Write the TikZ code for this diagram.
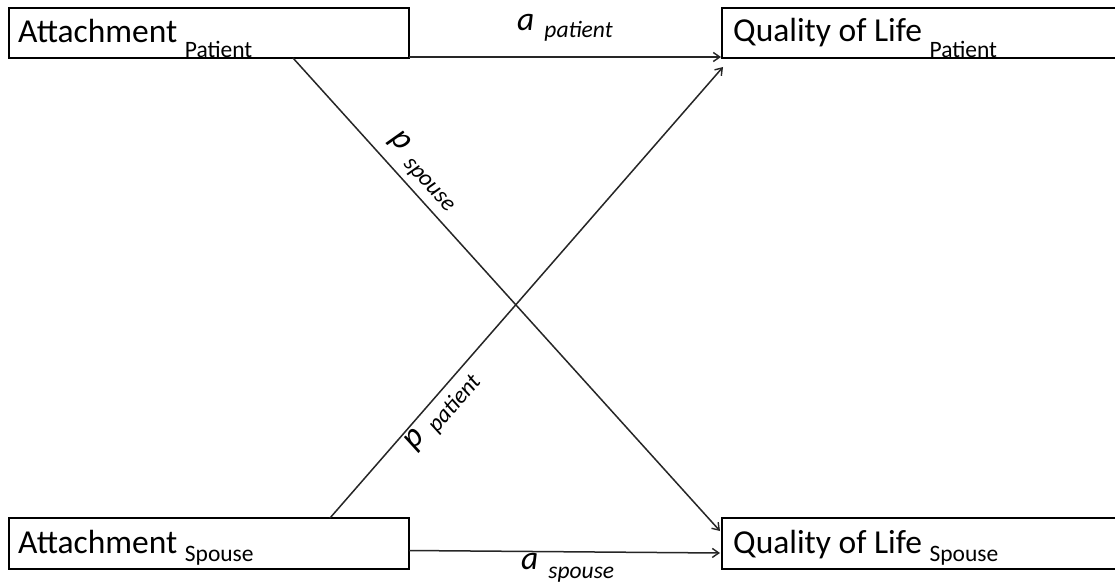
\documentclass[tikz,border=0pt]{standalone}
\usepackage{fontspec}
\setmainfont{Carlito}
\usetikzlibrary{calc,arrows.meta}
\newcommand{\mainsize}{\fontsize{33.5}{38}\selectfont}
\newcommand{\subsize}{\fontsize{23.5}{27}\selectfont}
\tikzset{
  box/.style={draw=black, line width=1.6pt, minimum height=50pt, inner sep=0pt, outer sep=0pt},
  boxlabel/.style={anchor=base west, inner sep=0pt, font=\mainsize},
  coeff/.style={inner sep=0pt, font=\mainsize\itshape},
  link/.style={draw=black!85, line width=1.5pt, -{Straight Barb[length=6.5pt,width=9pt,line width=1.4pt]}}
}
\begin{document}
\begin{tikzpicture}[x=1pt,y=-1pt]
  \clip (0,0) rectangle (1115,583);
  \fill[white] (0,0) rectangle (1115,583);

  % the four variable boxes
  \node[box, minimum width=400pt] (ap) at (209,33) {};
  \node[box, minimum width=400pt] (qp) at (922,33) {};
  \node[box, minimum width=400pt, minimum height=51pt] (as) at (209,543.5) {};
  \node[box, minimum width=400pt, minimum height=51pt] (qs) at (922,543.5) {};

  % box texts with subscripts
  \node[boxlabel] (apt) at ($(ap.north west)+(9,35)$) {Attachment \raisebox{-15pt}{\subsize Patient}};
  \node[boxlabel] (qpt) at ($(qp.north west)+(11,34)$) {Quality of Life \raisebox{-16pt}{\subsize Patient}};
  \node[boxlabel] (ast) at ($(as.north west)+(9,35)$) {Attachment \raisebox{-8pt}{\subsize Spouse}};
  \node[boxlabel] (qst) at ($(qs.north west)+(11,35)$) {Quality of Life \raisebox{-8pt}{\subsize Spouse}};

  % actor and partner paths
  \draw[link] ($(ap.south east)+(0,-1)$) -- ($(qp.south west)+(-1,-1)$);
  \draw[link] ($(ap.south west)+(284,0)$) -- ($(qs.north west)+(-2,13)$);
  \draw[link] ($(as.north west)+(321,0)$) -- ($(qp.south west)+(1,9)$);
  \draw[link] ($(as.east)+(0,7)$) -- ($(qs.west)+(-2,9.5)$);

  % path coefficients
  \node[coeff, anchor=base west] (ap-lab) at (517,31) {a\hspace{10pt}\raisebox{-7pt}{\subsize patient}};
  \node[coeff, anchor=base west] (as-lab) at (521,569) {a\hspace{10pt}\raisebox{-9pt}{\subsize spouse}};
  \node[coeff, rotate=-47.8] (ps-lab) at (423,172) {p\hspace{10pt}\raisebox{-7pt}{\subsize spouse}};
  \node[coeff, rotate=49.4] (pp-lab) at (443,412) {p\hspace{10pt}\raisebox{-7pt}{\subsize patient}};
\end{tikzpicture}
\end{document}
